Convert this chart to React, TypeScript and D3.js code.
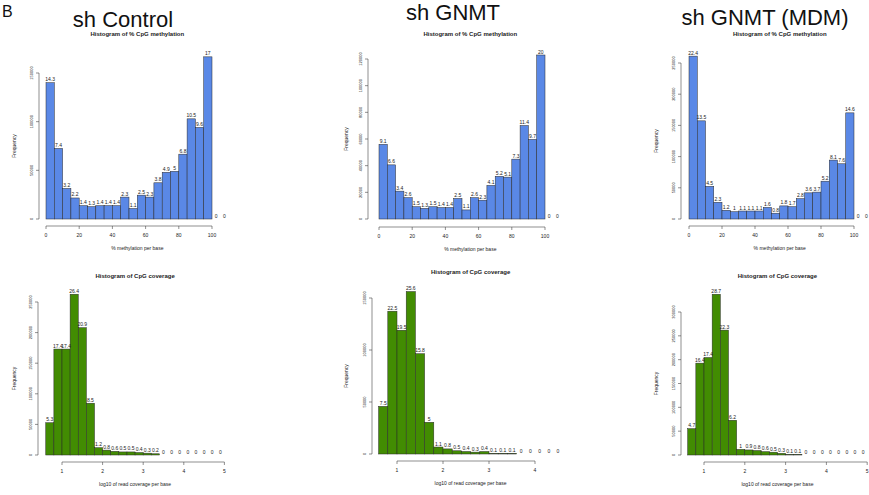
import * as d3 from "d3";

// bin edges
const methylBreaks = d3.range(0, 115, 5);
const coverageBreaks = d3.range(0, 23).map((i) => +(0.6 + i * 0.2).toFixed(1));

// sh Control
const ctrlMethylCounts = [140000, 72500, 31400, 21600, 13700, 12700, 13700, 13700, 13700, 22500, 10800, 24500, 22500, 37200, 48000, 49000, 66600, 102900, 94100, 166600, 0, 0];
const ctrlMethylLabels = ["14.3", "7.4", "3.2", "2.2", "1.4", "1.3", "1.4", "1.4", "1.4", "2.3", "1.1", "2.5", "2.3", "3.8", "4.9", "5", "6.8", "10.5", "9.6", "17", "0", "0"];
const ctrlCovCounts = [52700, 173100, 173100, 262700, 208000, 84600, 11900, 8000, 6000, 5000, 5000, 4000, 3000, 2000, 0, 0, 0, 0, 0, 0, 0, 0];
const ctrlCovLabels = ["5.3", "17.4", "17.4", "26.4", "20.9", "8.5", "1.2", "0.8", "0.6", "0.5", "0.5", "0.4", "0.3", "0.2", "0", "0", "0", "0", "0", "0", "0", "0"];

// sh GNMT
const gnmtMethylCounts = [56000, 40600, 20900, 16000, 9200, 8000, 9200, 8600, 8600, 15400, 6800, 16000, 14100, 25200, 32000, 31400, 44900, 70100, 59700, 123000, 0, 0];
const gnmtMethylLabels = ["9.1", "6.6", "3.4", "2.6", "1.5", "1.3", "1.5", "1.4", "1.4", "2.5", "1.1", "2.6", "2.3", "4.1", "5.2", "5.1", "7.3", "11.4", "9.7", "20", "0", "0"];
const gnmtCovCounts = [45800, 137300, 119000, 156200, 96400, 30500, 6700, 4900, 3100, 2400, 1800, 2400, 600, 600, 600, 0, 0, 0, 0, 0];
const gnmtCovLabels = ["7.5", "22.5", "19.5", "25.6", "15.8", "5", "1.1", "0.8", "0.5", "0.4", "0.3", "0.4", "0.1", "0.1", "0.1", "0", "0", "0", "0", "0"];

// sh GNMT (MDM)
const mdmMethylCounts = [261000, 157300, 52400, 26800, 14000, 11700, 12800, 12800, 12800, 18600, 9300, 21000, 19800, 32600, 41900, 43100, 60600, 94400, 88500, 170100, 0, 0];
const mdmMethylLabels = ["22.4", "13.5", "4.5", "2.3", "1.2", "1", "1.1", "1.1", "1.1", "1.6", "0.8", "1.8", "1.7", "2.8", "3.6", "3.7", "5.2", "8.1", "7.6", "14.6", "0", "0"];
const mdmCovCounts = [55200, 192700, 204500, 337200, 262000, 72900, 11800, 10600, 9400, 7000, 5900, 3500, 1200, 1200, 0, 0, 0, 0, 0, 0, 0, 0];
const mdmCovLabels = ["4.7", "16.4", "17.4", "28.7", "22.3", "6.2", "1", "0.9", "0.8", "0.6", "0.5", "0.3", "0.1", "0.1", "0", "0", "0", "0", "0", "0", "0", "0"];

const headings = ["sh Control", "sh GNMT", "sh GNMT (MDM)"];

const BLUE = "#5a88e6";
const GREEN = "#428c02";
const FONT = "Liberation Sans, Arial, sans-serif";

type Panel = {
  title: string;
  xLabel: string;
  breaks: number[];
  counts: number[];
  labels: string[];
  xDomain: [number, number];
  xRange: [number, number];
  xTicks: number[];
  yMax: number;
  yStep: number;
  yRange: [number, number];
  yAxisX: number;
  xAxisY: number;
  titleY: number;
  yLabelX: number;
  color: string;
};

function Histogram({ p }: { p: Panel }) {
  const x = d3.scaleLinear().domain(p.xDomain).range(p.xRange);
  const y = d3.scaleLinear().domain([0, p.yMax]).range(p.yRange);
  const yTicks = d3.range(0, p.yMax + 1, p.yStep);
  const mid = (p.breaks[0] + p.breaks[p.breaks.length - 1]) / 2;
  return (
    <g fontFamily={FONT} fill="#222">
      <text x={x(mid)} y={p.titleY} fontSize={6} fontWeight="bold" textAnchor="middle">
        {p.title}
      </text>
      {p.counts.map((c, i) => (
        <rect
          key={i}
          x={x(p.breaks[i])}
          y={y(c)}
          width={x(p.breaks[i + 1]) - x(p.breaks[i])}
          height={y(0) - y(c)}
          fill={p.color}
          stroke="#2a2a2a"
          strokeWidth={0.5}
        />
      ))}
      {p.counts.map((c, i) => (
        <text
          key={i}
          x={(x(p.breaks[i]) + x(p.breaks[i + 1])) / 2}
          y={y(c) - 1.5}
          fontSize={5}
          textAnchor="middle"
        >
          {p.labels[i]}
        </text>
      ))}
      {/* y axis */}
      <line x1={p.yAxisX} x2={p.yAxisX} y1={y(0)} y2={y(p.yMax)} stroke="#444" strokeWidth={0.6} />
      {yTicks.map((t) => (
        <g key={t}>
          <line x1={p.yAxisX - 3} x2={p.yAxisX} y1={y(t)} y2={y(t)} stroke="#444" strokeWidth={0.6} />
          <text
            transform={`translate(${p.yAxisX - 6},${y(t)}) rotate(-90)`}
            fontSize={4}
            textAnchor="middle"
          >
            {t}
          </text>
        </g>
      ))}
      <text
        transform={`translate(${p.yLabelX},${(y(0) + y(p.yMax)) / 2}) rotate(-90)`}
        fontSize={5}
        textAnchor="middle"
      >
        Frequency
      </text>
      {/* x axis */}
      <line
        x1={x(p.xTicks[0])}
        x2={x(p.xTicks[p.xTicks.length - 1])}
        y1={p.xAxisY}
        y2={p.xAxisY}
        stroke="#444"
        strokeWidth={0.6}
      />
      {p.xTicks.map((t) => (
        <g key={t}>
          <line x1={x(t)} x2={x(t)} y1={p.xAxisY} y2={p.xAxisY + 3} stroke="#444" strokeWidth={0.6} />
          <text x={x(t)} y={p.xAxisY + 11} fontSize={5} textAnchor="middle">
            {t}
          </text>
        </g>
      ))}
      <text x={x(mid)} y={p.xAxisY + 24} fontSize={5} textAnchor="middle">
        {p.xLabel}
      </text>
    </g>
  );
}

const methylTitle = "Histogram of % CpG methylation";
const methylXLabel = "% methylation per base";
const covTitle = "Histogram of CpG coverage";
const covXLabel = "log10 of read coverage per base";

const panels: Panel[] = [
  {
    title: methylTitle, xLabel: methylXLabel, breaks: methylBreaks, counts: ctrlMethylCounts, labels: ctrlMethylLabels,
    xDomain: [0, 100], xRange: [46, 212], xTicks: [0, 20, 40, 60, 80, 100],
    yMax: 150000, yStep: 50000, yRange: [219, 73], yAxisX: 39, xAxisY: 226, titleY: 36, yLabelX: 16, color: BLUE,
  },
  {
    title: methylTitle, xLabel: methylXLabel, breaks: methylBreaks, counts: gnmtMethylCounts, labels: gnmtMethylLabels,
    xDomain: [0, 100], xRange: [379, 545], xTicks: [0, 20, 40, 60, 80, 100],
    yMax: 120000, yStep: 20000, yRange: [219, 59], yAxisX: 368, xAxisY: 227, titleY: 36, yLabelX: 348, color: BLUE,
  },
  {
    title: methylTitle, xLabel: methylXLabel, breaks: methylBreaks, counts: mdmMethylCounts, labels: mdmMethylLabels,
    xDomain: [0, 100], xRange: [689, 854], xTicks: [0, 20, 40, 60, 80, 100],
    yMax: 250000, yStep: 50000, yRange: [219, 63], yAxisX: 681, xAxisY: 226, titleY: 36, yLabelX: 658, color: BLUE,
  },
  {
    title: covTitle, xLabel: covXLabel, breaks: coverageBreaks, counts: ctrlCovCounts, labels: ctrlCovLabels,
    xDomain: [1, 5], xRange: [62, 224.4], xTicks: [1, 2, 3, 4, 5],
    yMax: 250000, yStep: 50000, yRange: [455, 302], yAxisX: 38, xAxisY: 462, titleY: 278, yLabelX: 16, color: GREEN,
  },
  {
    title: covTitle, xLabel: covXLabel, breaks: coverageBreaks.slice(0, 21), counts: gnmtCovCounts, labels: gnmtCovLabels,
    xDomain: [1, 4], xRange: [397, 535], xTicks: [1, 2, 3, 4],
    yMax: 150000, yStep: 50000, yRange: [454, 298], yAxisX: 372, xAxisY: 461, titleY: 274, yLabelX: 348, color: GREEN,
  },
  {
    title: covTitle, xLabel: covXLabel, breaks: coverageBreaks, counts: mdmCovCounts, labels: mdmCovLabels,
    xDomain: [1, 5], xRange: [704, 867.2], xTicks: [1, 2, 3, 4, 5],
    yMax: 300000, yStep: 50000, yRange: [455, 312], yAxisX: 681, xAxisY: 462, titleY: 278, yLabelX: 658, color: GREEN,
  },
];

const headingPos = [
  { x: 123, y: 27 },
  { x: 453, y: 20 },
  { x: 765, y: 25 },
];

export default function App() {
  return (
    <svg
      width={869}
      height={495}
      style={{ position: "absolute", left: 0, top: 0, background: "#fff" }}
    >
      <rect width={869} height={495} fill="#fff" />
      <text x={2} y={17} fontSize={16} fontFamily={FONT} fill="#111">
        B
      </text>
      {headings.map((h, i) => (
        <text
          key={h}
          x={headingPos[i].x}
          y={headingPos[i].y}
          fontSize={22}
          fontFamily={FONT}
          textAnchor="middle"
          fill="#111"
        >
          {h}
        </text>
      ))}
      {panels.map((p, i) => (
        <Histogram key={i} p={p} />
      ))}
    </svg>
  );
}
